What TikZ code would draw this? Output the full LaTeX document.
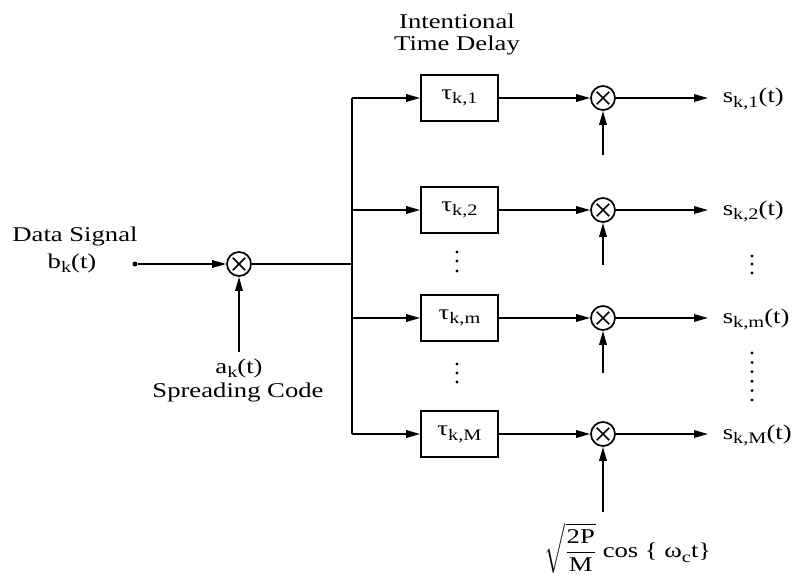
\documentclass[tikz,border=0pt]{standalone}
\usepackage{amsmath}
\usepackage{fontspec}
\setmainfont[FakeStretch=1.27]{Liberation Serif}
\usetikzlibrary{arrows.meta}
\newcommand{\subx}[1]{\raisebox{-0.5ex}{\fontsize{16}{16}\selectfont #1}}
\begin{document}
\begin{tikzpicture}[x=1pt,y=-1pt, line width=1.7pt,
  every node/.style={font=\fontsize{21}{24}\selectfont},
  mixer/.style={circle,draw,minimum size=24pt,inner sep=0pt,
     path picture={\draw[line width=1.6pt]
       ([shift={(-6.2pt,-6.2pt)}]path picture bounding box.center) -- ([shift={(6.2pt,6.2pt)}]path picture bounding box.center)
       ([shift={(-6.2pt,6.2pt)}]path picture bounding box.center) -- ([shift={(6.2pt,-6.2pt)}]path picture bounding box.center);}},
  delaybox/.style={draw, minimum width=77pt, minimum height=46pt, inner sep=0pt},
  sig/.style={-{Triangle[length=14pt,width=7.5pt]}},
  lbl/.style={inner sep=0pt},
  dotc/.style={circle, fill, inner sep=0pt, minimum size=5pt},
  vdot/.style={circle, fill, inner sep=0pt, minimum size=3.2pt}
]
\useasboundingbox (0,0) rectangle (793,575);

% input section
\node[dotc] (in) at (135,264) {};
\node[mixer] (m0) at (239,264) {};
\coordinate (a0) at (239,352);
\node[lbl, anchor=base] (ak) at (239,373) {a\subx{k}(t)};
\node[lbl, anchor=base] (sc) at (238,397) {Spreading Code};
\node[lbl, anchor=base] (ds) at (75,241) {Data Signal};
\node[lbl, anchor=base] (bk) at (72,268) {b\subx{k}(t)};
\coordinate (bj) at (352,264);
\draw[sig] (in) -- (m0);
\draw[sig] (a0) -- (m0);
\draw (m0) -- (bj);

\node[lbl, anchor=base] (t1) at (457,29) {Intentional};
\node[lbl, anchor=base] (t2) at (457,51) {Time Delay};

% branches
\foreach \i/\y/\low in {1/98/155, 2/210/265, m/318/373, M/434/512}{
  \coordinate (b\i) at (352,\y);
  \node[delaybox] (d\i) at (459.5,\y) {τ\subx{k,\i}};
  \node[mixer] (x\i) at (603,\y) {};
  \coordinate (o\i) at (708,\y);
  \coordinate (u\i) at (603,\low);
  \node[lbl, anchor=base west] (s\i) at (722,\y+5) {s\subx{k,\i}(t)};
  \draw[sig] (b\i) -- (d\i);
  \draw[sig] (d\i) -- (x\i);
  \draw[sig] (x\i) -- (o\i);
  \draw[sig] (u\i) -- (x\i);
}
\draw (b1) -- (bM);

\node[lbl] (carrier) at (628,548) {$\displaystyle\sqrt{\frac{\text{2P}}{\text{M}}}$ cos \{ ω\subx{c}t\}};

% dots
\foreach \yy in {252,261,271,364,373,382}{\node[vdot] at (457,\yy) {};}
\foreach \yy in {256,264,273,353,362.4,371.8,381.2,390.6,400}{\node[vdot] at (752,\yy) {};}
\end{tikzpicture}
\end{document}
